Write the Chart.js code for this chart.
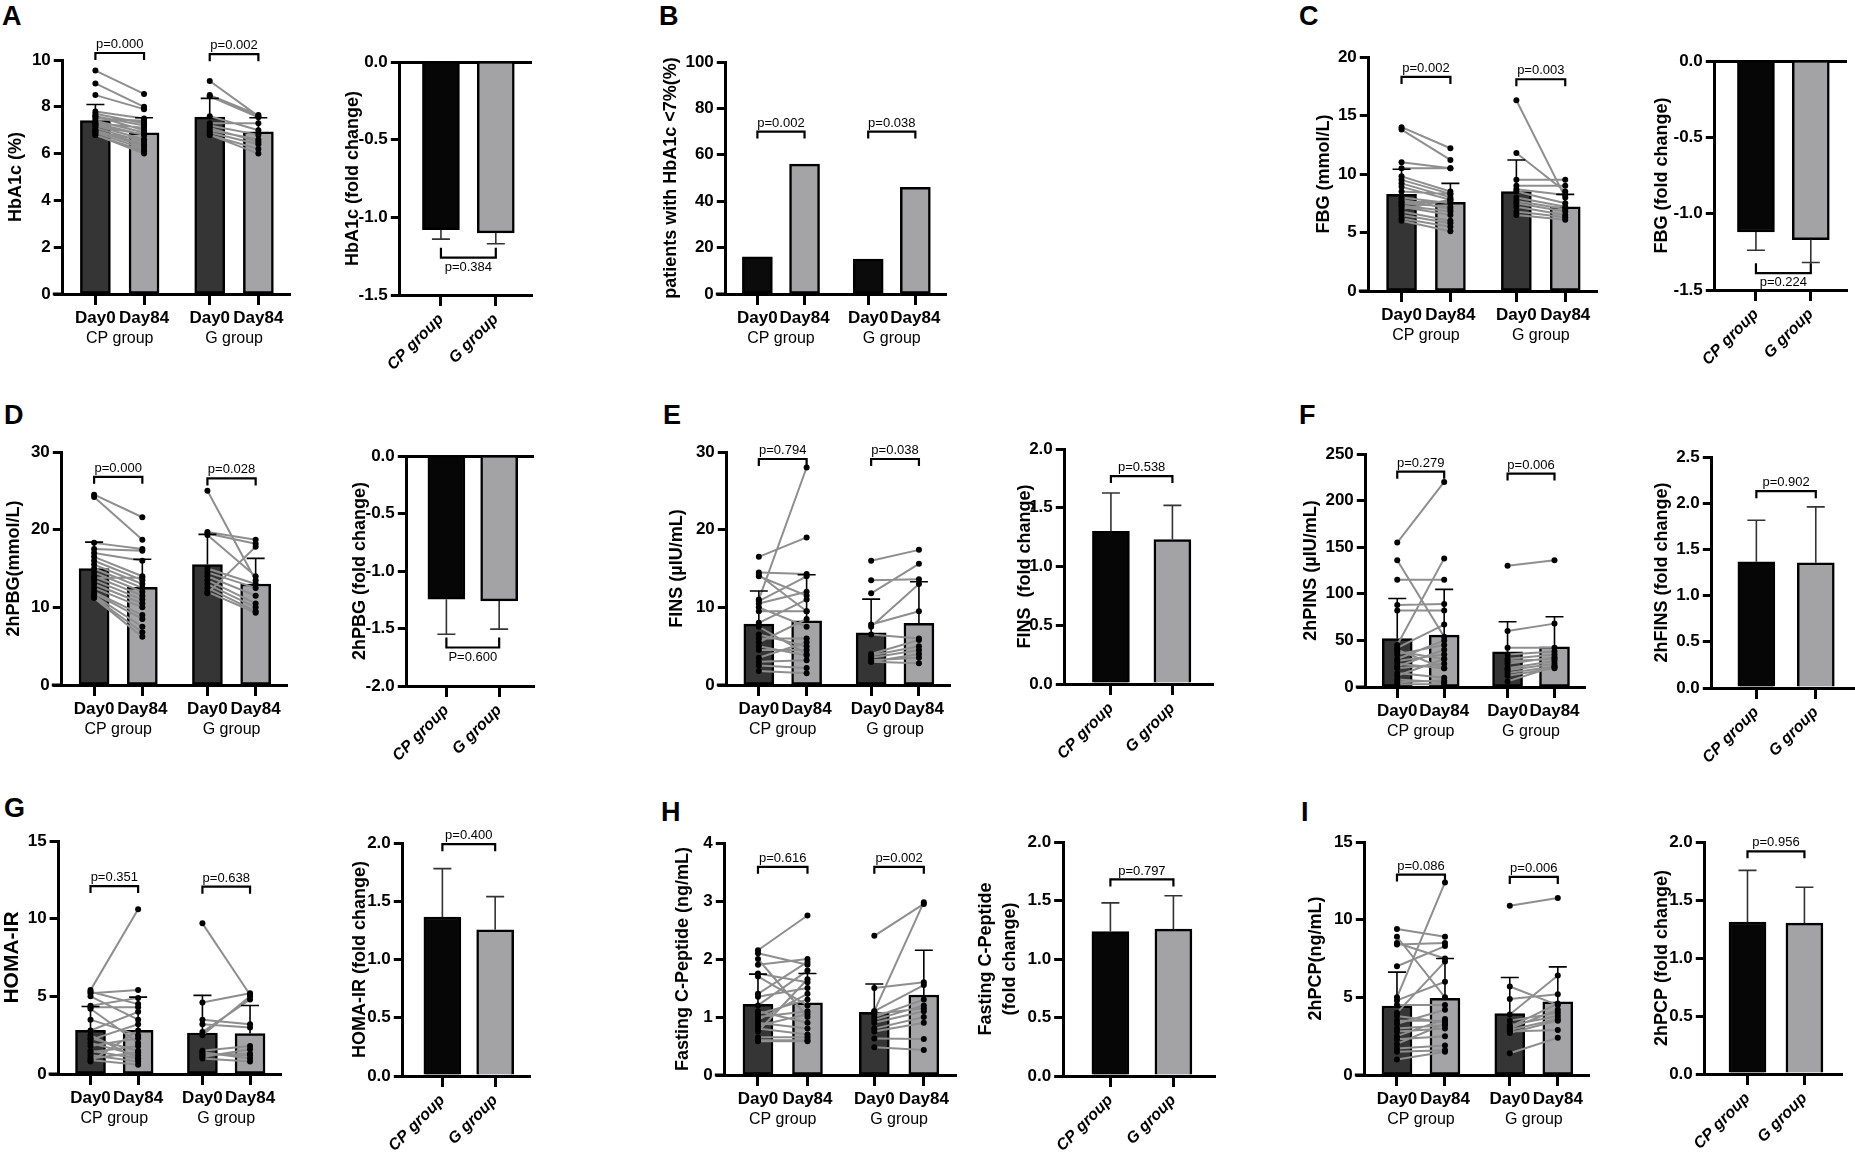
<!DOCTYPE html>
<html>
<head>
<meta charset="utf-8">
<script src="https://cdn.jsdelivr.net/npm/chart.js@4.4.1/dist/chart.umd.min.js"></script>
<style>
    body {
        margin: 0;
        background: #fff;
        width: 1855px;
        height: 1158px;
        position: relative;
        overflow: hidden;
        font-family: "Liberation Sans", Arial, sans-serif;
    }
    canvas {
        position: absolute;
    }
    .letter {
        position: absolute;
        font-weight: bold;
        font-size: 27px;
        line-height: 27px;
    }
</style>
</head>
<body>
<div class="letter" style="left:2px;top:3px">A</div>
<div class="letter" style="left:659px;top:3px">B</div>
<div class="letter" style="left:1299px;top:3px">C</div>
<div class="letter" style="left:4px;top:402px">D</div>
<div class="letter" style="left:663px;top:402px">E</div>
<div class="letter" style="left:1299px;top:402px">F</div>
<div class="letter" style="left:4px;top:795px">G</div>
<div class="letter" style="left:661px;top:799px">H</div>
<div class="letter" style="left:1301px;top:799px">I</div>
<script>
const days = ["Day0", "Day84"];
const groups = ["CP group", "G group"];

// A: HbA1c
const hba1cMean = [7.41, 6.89, 7.56, 6.93];
const hba1cSd = [0.69, 0.64, 0.80, 0.60];
const hba1cCp0 = [9.55, 9.0, 8.5, 7.8, 7.7, 7.6, 7.5, 7.4, 7.3, 7.3, 7.2, 7.1, 7.0, 7.0, 6.9, 6.9, 6.8, 6.8, 7.6, 7.2];
const hba1cCp84 = [8.55, 8.0, 7.9, 7.5, 7.3, 7.2, 7.4, 6.9, 6.8, 7.1, 6.6, 6.5, 6.4, 6.3, 6.2, 6.6, 6.1, 6.0, 7.0, 6.8];
const hba1cG0 = [9.1, 8.5, 8.45, 7.6, 7.3, 7.2, 7.0, 6.9, 6.8, 6.8, 7.1];
const hba1cG84 = [7.6, 7.65, 7.55, 7.0, 7.3, 6.8, 6.6, 6.4, 6.2, 6.0, 6.5];
const hba1cP = ["p=0.000", "p=0.002"];
const hba1cFold = [-1.08, -1.10];
const hba1cFoldSd = [0.06, 0.07];
const hba1cFoldP = "p=0.384";

// B: patients with HbA1c < 7%
const rateValues = [16, 56, 15, 46];
const rateP = ["p=0.002", "p=0.038"];

// C: FBG
const fbgMean = [8.26, 7.57, 8.49, 7.2];
const fbgSd = [2.14, 1.63, 2.71, 1.06];
const fbgCp0 = [14.0, 13.8, 11.0, 10.5, 9.8, 9.5, 9.2, 8.9, 8.5, 8.0, 7.8, 7.5, 7.3, 7.2, 7.0, 6.8, 6.5, 6.2, 6.0, 7.6];
const fbgCp84 = [12.2, 11.2, 10.5, 10.5, 8.5, 8.3, 8.0, 7.8, 8.3, 7.5, 7.0, 7.2, 6.8, 6.5, 7.8, 6.0, 5.8, 5.5, 5.1, 7.6];
const fbgG0 = [16.3, 11.8, 9.5, 9.0, 8.7, 8.5, 8.0, 7.7, 7.5, 7.2, 6.8, 6.5];
const fbgG84 = [8.0, 8.5, 9.5, 9.0, 8.2, 7.5, 7.2, 7.0, 6.8, 6.5, 6.3, 6.1];
const fbgP = ["p=0.002", "p=0.003"];
const fbgFold = [-1.12, -1.17];
const fbgFoldSd = [0.12, 0.15];
const fbgFoldP = "p=0.224";

// D: 2hPBG
const pbgMean = [15.0, 12.56, 15.5, 13.0];
const pbgSd = [3.4, 3.64, 3.9, 3.3];
const pbgCp0 = [24.5, 24.2, 18.3, 17.5, 17.0, 16.5, 16.0, 15.5, 15.0, 14.5, 14.0, 13.5, 13.0, 12.5, 12.0, 11.8, 11.5, 11.3, 11.2, 13.8];
const pbgCp84 = [21.6, 18.7, 17.5, 17.3, 16.0, 14.0, 13.5, 13.0, 12.5, 12.0, 11.5, 11.0, 10.5, 10.0, 9.0, 8.5, 7.5, 6.8, 6.2, 13.8];
const pbgG0 = [25.0, 19.7, 19.5, 19.3, 15.0, 14.5, 14.0, 13.5, 13.0, 12.5, 12.0, 11.8];
const pbgG84 = [13.5, 18.7, 18.2, 14.0, 13.0, 12.5, 11.5, 10.5, 10.0, 9.5, 9.3, 17.8];
const pbgP = ["p=0.000", "p=0.028"];
const pbgFold = [-1.245, -1.26];
const pbgFoldSd = [0.305, 0.245];
const pbgFoldP = "P=0.600";

// E: FINS
const finsMean = [7.84, 8.27, 6.73, 7.93];
const finsSd = [4.26, 5.93, 4.33, 5.37];
const finsCp0 = [16.5, 14.5, 14.2, 14.0, 11.0, 10.8, 10.5, 10.0, 9.5, 8.0, 7.5, 6.5, 6.0, 5.5, 5.0, 4.5, 3.5, 3.0, 2.5, 1.8];
const finsCp84 = [19.0, 14.3, 9.5, 11.5, 28.0, 14.0, 12.0, 7.5, 9.5, 11.0, 4.0, 5.0, 6.0, 8.5, 3.8, 4.5, 5.5, 3.2, 2.2, 1.5];
const finsG0 = [16.0, 13.5, 11.8, 7.8, 7.5, 6.5, 4.0, 3.8, 3.5, 3.2, 3.0, 3.0];
const finsG84 = [17.4, 13.6, 15.6, 9.5, 13.0, 6.0, 5.8, 5.0, 4.5, 3.5, 2.8, 4.0];
const finsP = ["p=0.794", "p=0.038"];
const finsFold = [1.30, 1.23];
const finsFoldSd = [0.325, 0.29];
const finsFoldP = "p=0.538";

// F: 2hPINS
const pinsMean = [52.0, 55.6, 37.7, 43.0];
const pinsSd = [43.0, 49.1, 32.3, 32.3];
const pinsCp0 = [155, 136, 115, 88, 82, 45, 42, 38, 35, 30, 28, 25, 22, 20, 15, 12, 8, 5, 3, 40];
const pinsCp84 = [220, 54, 115, 89, 82, 138, 67, 30, 45, 50, 35, 20, 40, 25, 10, 30, 5, 7, 3, 20];
const pinsG0 = [130, 60, 42, 35, 30, 28, 25, 20, 18, 15, 12, 6];
const pinsG84 = [136, 68, 42, 38, 35, 30, 32, 28, 25, 22, 20, 22];
const pinsP = ["p=0.279", "p=0.006"];
const pinsFold = [1.365, 1.355];
const pinsFoldSd = [0.45, 0.605];
const pinsFoldP = "p=0.902";

// G: HOMA-IR
const homaMean = [2.81, 2.81, 2.64, 2.6];
const homaSd = [1.54, 2.14, 2.42, 1.81];
const homaCp0 = [5.4, 5.3, 5.2, 5.0, 4.4, 4.3, 4.2, 3.5, 2.8, 2.3, 2.2, 2.0, 1.8, 1.5, 1.4, 1.2, 1.0, 0.9, 0.8, 2.5];
const homaCp84 = [10.6, 4.5, 5.4, 3.5, 4.9, 4.3, 2.0, 2.5, 4.0, 1.5, 3.2, 1.2, 2.3, 1.0, 1.8, 0.8, 1.4, 0.6, 2.8, 1.0];
const homaG0 = [9.7, 4.6, 3.5, 3.2, 2.7, 2.5, 1.5, 1.4, 1.3, 1.2, 1.0, 1.1];
const homaG84 = [5.1, 5.2, 3.2, 3.0, 4.8, 5.0, 1.8, 1.0, 1.2, 1.3, 0.8, 1.6];
const homaP = ["p=0.351", "p=0.638"];
const homaFold = [1.365, 1.255];
const homaFoldSd = [0.415, 0.285];
const homaFoldP = "p=0.400";

// H: fasting C-peptide
const cpepMean = [1.22, 1.245, 1.08, 1.38];
const cpepSd = [0.52, 0.505, 0.49, 0.77];
const cpepCp0 = [2.15, 2.1, 2.0, 1.9, 1.75, 1.7, 1.4, 1.35, 1.2, 1.1, 1.05, 1.0, 0.95, 0.9, 0.85, 0.8, 0.75, 0.65, 0.6, 0.58];
const cpepCp84 = [2.75, 1.9, 1.0, 2.0, 1.6, 1.2, 1.95, 1.5, 1.8, 0.9, 1.3, 1.1, 1.4, 0.8, 1.05, 0.7, 1.65, 0.65, 0.6, 0.58];
const cpepG0 = [2.4, 1.5, 1.1, 1.1, 1.0, 0.95, 0.9, 0.8, 0.75, 0.63, 0.48, 1.05];
const cpepG84 = [2.95, 1.6, 2.98, 1.55, 1.3, 1.2, 1.1, 1.0, 0.9, 0.62, 0.43, 1.15];
const cpepP = ["p=0.616", "p=0.002"];
const cpepFold = [1.235, 1.255];
const cpepFoldSd = [0.245, 0.285];
const cpepFoldP = "p=0.797";

// I: 2hPCP
const pcpMean = [4.44, 4.93, 3.96, 4.71];
const pcpSd = [2.18, 2.57, 2.32, 2.25];
const pcpCp0 = [9.4, 8.9, 8.5, 8.4, 7.0, 5.0, 4.8, 4.5, 4.0, 3.5, 3.3, 3.0, 2.8, 2.5, 2.3, 2.0, 1.7, 1.5, 1.0, 3.8];
const pcpCp84 = [8.9, 5.0, 7.5, 8.5, 8.3, 12.4, 6.0, 4.5, 7.3, 3.5, 4.2, 3.2, 3.0, 3.6, 2.5, 3.3, 1.9, 1.6, 1.5, 3.4];
const pcpG0 = [10.9, 5.7, 4.9, 3.9, 3.5, 3.2, 3.0, 2.9, 2.8, 2.7, 1.4, 3.1];
const pcpG84 = [11.4, 4.5, 5.2, 6.4, 4.0, 3.8, 4.2, 3.6, 2.9, 3.5, 2.4, 4.6];
const pcpP = ["p=0.086", "p=0.006"];
const pcpFold = [1.31, 1.30];
const pcpFoldSd = [0.445, 0.31];
const pcpFoldP = "p=0.956";

// x positions of the four bars
const CENTERS = [1, 2, 3.35, 4.35];
const FONT = "'Liberation Sans', Arial, sans-serif";

Chart.defaults.font.family = FONT;
Chart.defaults.color = "#000";
Chart.defaults.animation = false;
Chart.defaults.plugins.legend.display = false;
Chart.defaults.plugins.tooltip.enabled = false;

const marksPlugin = {
    id: "marks",
    afterDatasetsDraw(chart, args, opts) {
        const ctx = chart.ctx;
        const x = chart.scales.x;
        const y = chart.scales.y;
        const area = chart.chartArea;
        ctx.save();
        if (opts.extendLeft) {
            // baseline sticks out a little left of the y axis
            ctx.lineWidth = 3;
            ctx.strokeStyle = "#000";
            ctx.beginPath();
            ctx.moveTo(area.left - opts.extendLeft, area.bottom);
            ctx.lineTo(area.left, area.bottom);
            ctx.stroke();
        }
        (opts.errors || []).forEach((e) => {
            const px = x.getPixelForValue(e.x);
            const p0 = y.getPixelForValue(e.y);
            const p1 = y.getPixelForValue(e.y + Math.sign(e.y) * e.sd);
            ctx.lineWidth = 1.6;
            ctx.strokeStyle = opts.errColor || "#000";
            ctx.beginPath();
            ctx.moveTo(px, p0);
            ctx.lineTo(px, p1);
            ctx.moveTo(px - 9, p1);
            ctx.lineTo(px + 9, p1);
            ctx.stroke();
        });
        (opts.brackets || []).forEach((b) => {
            const xa = x.getPixelForValue(b.x0);
            const xb = x.getPixelForValue(b.x1);
            const py = y.getPixelForValue(b.y);
            const tick = b.dir > 0 ? 7 : -10;
            ctx.lineWidth = 2.2;
            ctx.strokeStyle = "#000";
            ctx.beginPath();
            ctx.moveTo(xa, py + tick);
            ctx.lineTo(xa, py);
            ctx.lineTo(xb, py);
            ctx.lineTo(xb, py + tick);
            ctx.stroke();
            ctx.fillStyle = "#000";
            ctx.font = "13px " + FONT;
            ctx.textAlign = "center";
            ctx.textBaseline = b.dir > 0 ? "bottom" : "top";
            ctx.fillText(b.text, (xa + xb) / 2, b.dir > 0 ? py - 2 : py + 3);
        });
        (opts.groups || []).forEach((g) => {
            ctx.fillStyle = "#000";
            ctx.font = "16px " + FONT;
            ctx.textAlign = "center";
            ctx.textBaseline = "middle";
            ctx.fillText(g.text, x.getPixelForValue(g.x), area.bottom + 45);
        });
        ctx.restore();
    },
};

function makeCanvas(left, top, w, h) {
    const cv = document.createElement("canvas");
    cv.width = Math.round(w);
    cv.height = Math.round(h);
    cv.style.left = `${left}px`;
    cv.style.top = `${top}px`;
    cv.style.width = `${Math.round(w)}px`;
    cv.style.height = `${Math.round(h)}px`;
    document.body.appendChild(cv);
    return cv;
}

function pairLine(day0, day84, x0, x1) {
    const pts = [];
    day0.forEach((v, i) => {
        pts.push({ x: x0, y: v }, { x: x1, y: day84[i] }, { x: x1, y: null });
    });
    return {
        type: "line",
        data: pts,
        borderColor: "#8e8e8e",
        borderWidth: 2,
        pointRadius: 3,
        pointBackgroundColor: "#000",
        pointBorderWidth: 0,
        spanGaps: false,
        order: 0,
    };
}

function pairChart(box, d) {
    const titleSize = box.titleSize || 18;
    const left = box.tx - titleSize * 0.6;
    const padTop = 40;
    const xh = 70;
    const w = box.right - left + 10;
    const h = padTop + (box.bottom - box.top) + xh;
    const cv = makeCanvas(left, box.top - padTop, w, h);
    const yw = box.ax - left;

    const datasets = [{
        type: "bar",
        data: d.mean.map((v, i) => ({ x: CENTERS[i], y: v })),
        backgroundColor: d.fill,
        borderColor: "#000",
        borderWidth: 2.5,
        borderSkipped: false,
        barThickness: 30,
        order: 10,
    }];
    if (d.pairs) {
        datasets.push(pairLine(d.pairs[0], d.pairs[1], CENTERS[0], CENTERS[1]));
        datasets.push(pairLine(d.pairs[2], d.pairs[3], CENTERS[2], CENTERS[3]));
    }

    new Chart(cv, {
        type: "bar",
        data: { datasets },
        options: {
            responsive: false,
            layout: { padding: { top: padTop, right: 10, left: 0, bottom: 0 } },
            scales: {
                x: {
                    type: "linear",
                    min: 0.33,
                    max: 5.0,
                    offset: false,
                    afterBuildTicks: (s) => {
                        s.ticks = CENTERS.map((v) => ({ value: v }));
                    },
                    afterFit: (s) => {
                        s.height = xh;
                    },
                    ticks: {
                        callback: (v, i) => days[i % 2],
                        font: { size: 17, weight: "bold" },
                        padding: 3,
                        autoSkip: false,
                        maxRotation: 0,
                    },
                    grid: {
                        offset: false,
                        drawOnChartArea: false,
                        tickLength: 11,
                        tickWidth: 3,
                        tickColor: "#000",
                    },
                    border: { width: 3, color: "#000" },
                },
                y: {
                    min: 0,
                    max: d.yMax,
                    afterFit: (s) => {
                        s.width = yw;
                    },
                    ticks: {
                        stepSize: d.step,
                        font: { size: 17, weight: "bold" },
                        padding: 3,
                    },
                    grid: {
                        drawOnChartArea: false,
                        tickLength: 9,
                        tickWidth: 3,
                        tickColor: "#000",
                    },
                    border: { width: 3, color: "#000" },
                    title: {
                        display: true,
                        text: d.title,
                        font: { size: titleSize, weight: "bold" },
                        padding: 0,
                    },
                },
            },
            plugins: {
                marks: {
                    extendLeft: 10,
                    errors: d.sd
                        ? d.mean.map((m, i) => ({ x: CENTERS[i], y: m, sd: d.sd[i] }))
                        : [],
                    brackets: [
                        { x0: CENTERS[0], x1: CENTERS[1], y: box.levels[0], text: d.p[0], dir: 1 },
                        { x0: CENTERS[2], x1: CENTERS[3], y: box.levels[1], text: d.p[1], dir: 1 },
                    ],
                    groups: [
                        { x: (CENTERS[0] + CENTERS[1]) / 2, text: groups[0] },
                        { x: (CENTERS[2] + CENTERS[3]) / 2, text: groups[1] },
                    ],
                },
            },
        },
        plugins: [marksPlugin],
    });
}

function foldChart(box, d) {
    const titleSize = 18;
    const lh = box.lh || 1.2;
    const left = box.tx - titleSize * lh / 2;
    const padTop = 30;
    const xh = 100;
    const w = box.right - left + 10;
    const h = padTop + (box.bottom - box.top) + xh;
    const cv = makeCanvas(left, box.top - padTop, w, h);
    const yw = box.ax - left;
    const negative = d.fold[0] < 0;

    new Chart(cv, {
        type: "bar",
        data: {
            datasets: [{
                data: d.fold.map((v, i) => ({ x: i, y: v })),
                backgroundColor: ["#060606", "#a3a3a6"],
                borderColor: "#000",
                borderWidth: 2.5,
                borderSkipped: "start",
                barThickness: 37,
            }],
        },
        options: {
            responsive: false,
            layout: { padding: { top: padTop, right: 10, left: 0, bottom: 0 } },
            scales: {
                x: {
                    type: "linear",
                    min: -0.75,
                    max: 1.66,
                    offset: false,
                    afterBuildTicks: (s) => {
                        s.ticks = [{ value: 0 }, { value: 1 }];
                    },
                    afterFit: (s) => {
                        s.height = xh;
                    },
                    ticks: {
                        callback: (v, i) => groups[i],
                        font: { size: 16, weight: "bold", style: "italic" },
                        padding: 4,
                        autoSkip: false,
                        minRotation: 45,
                        maxRotation: 45,
                    },
                    grid: {
                        offset: false,
                        drawOnChartArea: false,
                        tickLength: 11,
                        tickWidth: 3,
                        tickColor: "#000",
                    },
                    border: { width: 3, color: "#000" },
                },
                y: {
                    min: d.yMin,
                    max: d.yMax,
                    afterFit: (s) => {
                        s.width = yw;
                    },
                    ticks: {
                        stepSize: 0.5,
                        font: { size: 17, weight: "bold" },
                        padding: 3,
                        callback: (v) => v.toFixed(1),
                    },
                    grid: {
                        color: (c) => (c.tick && c.tick.value === 0 ? "#000" : "rgba(0,0,0,0)"),
                        lineWidth: 3,
                        tickLength: 9,
                        tickWidth: 3,
                        tickColor: "#000",
                    },
                    border: { width: 3, color: "#000" },
                    title: {
                        display: true,
                        text: d.title,
                        font: { size: titleSize, weight: "bold", lineHeight: lh },
                        padding: 0,
                    },
                },
            },
            plugins: {
                marks: {
                    errColor: "#333",
                    errors: d.fold.map((m, i) => ({ x: i, y: m, sd: d.sd[i] })),
                    brackets: [
                        { x0: 0, x1: 1, y: box.level, text: d.p, dir: negative ? -1 : 1 },
                    ],
                },
            },
        },
        plugins: [marksPlugin],
    });
}

const DARK = ["#353535", "#a4a4a7", "#353535", "#a4a4a7"];
const BLACK = ["#0b0b0b", "#a4a4a7", "#0b0b0b", "#a4a4a7"];

function main() {
    pairChart(
        { ax: 63, top: 60, bottom: 294, right: 290, tx: 16, levels: [10.3, 10.25] },
        {
            title: "HbA1c (%)", yMax: 10, step: 2, fill: DARK,
            mean: hba1cMean, sd: hba1cSd, p: hba1cP,
            pairs: [hba1cCp0, hba1cCp84, hba1cG0, hba1cG84],
        },
    );
    foldChart(
        { ax: 400, top: 62, bottom: 295, right: 532, tx: 353, level: -1.26 },
        { title: "HbA1c (fold change)", yMin: -1.5, yMax: 0, fold: hba1cFold, sd: hba1cFoldSd, p: hba1cFoldP },
    );
    pairChart(
        { ax: 726, top: 62, bottom: 294, right: 946, tx: 671, levels: [70, 70] },
        {
            title: "patients with HbA1c <7%(%)", yMax: 100, step: 20, fill: BLACK,
            mean: rateValues, p: rateP,
        },
    );
    pairChart(
        { ax: 1369, top: 57, bottom: 291, right: 1597, tx: 1324, levels: [18.3, 18.1] },
        {
            title: "FBG (mmol/L)", yMax: 20, step: 5, fill: DARK,
            mean: fbgMean, sd: fbgSd, p: fbgP,
            pairs: [fbgCp0, fbgCp84, fbgG0, fbgG84],
        },
    );
    foldChart(
        { ax: 1715, top: 61, bottom: 290, right: 1847, tx: 1662, level: -1.39 },
        { title: "FBG (fold change)", yMin: -1.5, yMax: 0, fold: fbgFold, sd: fbgFoldSd, p: fbgFoldP },
    );

    pairChart(
        { ax: 62, top: 452, bottom: 685, right: 287, tx: 14, levels: [26.8, 26.6] },
        {
            title: "2hPBG(mmol/L)", yMax: 30, step: 10, fill: DARK,
            mean: pbgMean, sd: pbgSd, p: pbgP,
            pairs: [pbgCp0, pbgCp84, pbgG0, pbgG84],
        },
    );
    foldChart(
        { ax: 407, top: 456, bottom: 686, right: 534, tx: 360, level: -1.665 },
        { title: "2hPBG (fold change)", yMin: -2, yMax: 0, fold: pbgFold, sd: pbgFoldSd, p: pbgFoldP },
    );
    pairChart(
        { ax: 727, top: 452, bottom: 685, right: 950, tx: 677, levels: [29.1, 29.1] },
        {
            title: "FINS (µIU/mL)", yMax: 30, step: 10, fill: DARK,
            mean: finsMean, sd: finsSd, p: finsP,
            pairs: [finsCp0, finsCp84, finsG0, finsG84],
        },
    );
    foldChart(
        { ax: 1065, top: 449, bottom: 684, right: 1213, tx: 1025, level: 1.77 },
        { title: "FINS  (fold change)", yMin: 0, yMax: 2, fold: finsFold, sd: finsFoldSd, p: finsFoldP },
    );
    pairChart(
        { ax: 1366, top: 454, bottom: 687, right: 1585, tx: 1311, levels: [231, 229] },
        {
            title: "2hPINS (µIU/mL)", yMax: 250, step: 50, fill: DARK,
            mean: pinsMean, sd: pinsSd, p: pinsP,
            pairs: [pinsCp0, pinsCp84, pinsG0, pinsG84],
        },
    );
    foldChart(
        { ax: 1712, top: 457, bottom: 688, right: 1855, tx: 1662, level: 2.13 },
        { title: "2hFINS (fold change)", yMin: 0, yMax: 2.5, fold: pinsFold, sd: pinsFoldSd, p: pinsFoldP },
    );

    pairChart(
        { ax: 59, top: 841, bottom: 1074, right: 281, tx: 13, titleSize: 21, levels: [12.1, 12.06] },
        {
            title: "HOMA-IR", yMax: 15, step: 5, fill: DARK,
            mean: homaMean, sd: homaSd, p: homaP,
            pairs: [homaCp0, homaCp84, homaG0, homaG84],
        },
    );
    foldChart(
        { ax: 403, top: 843, bottom: 1076, right: 530, tx: 360, level: 1.99 },
        { title: "HOMA-IR (fold change)", yMin: 0, yMax: 2, fold: homaFold, sd: homaFoldSd, p: homaFoldP },
    );
    pairChart(
        { ax: 725, top: 843, bottom: 1075, right: 956, tx: 683, levels: [3.59, 3.59] },
        {
            title: "Fasting C-Peptide (ng/mL)", yMax: 4, step: 1, fill: DARK,
            mean: cpepMean, sd: cpepSd, p: cpepP,
            pairs: [cpepCp0, cpepCp84, cpepG0, cpepG84],
        },
    );
    foldChart(
        { ax: 1063, top: 842, bottom: 1076, right: 1215, tx: 986, lh: 1.35, level: 1.68 },
        {
            title: ["Fasting C-Peptide", "(fold change)"], yMin: 0, yMax: 2,
            fold: cpepFold, sd: cpepFoldSd, p: cpepFoldP,
        },
    );
    pairChart(
        { ax: 1365, top: 842, bottom: 1075, right: 1589, tx: 1316, levels: [12.9, 12.75] },
        {
            title: "2hPCP(ng/mL)", yMax: 15, step: 5, fill: DARK,
            mean: pcpMean, sd: pcpSd, p: pcpP,
            pairs: [pcpCp0, pcpCp84, pcpG0, pcpG84],
        },
    );
    foldChart(
        { ax: 1705, top: 842, bottom: 1074, right: 1842, tx: 1662, level: 1.92 },
        { title: "2hPCP (fold change)", yMin: 0, yMax: 2, fold: pcpFold, sd: pcpFoldSd, p: pcpFoldP },
    );
}

main();
</script>
</body>
</html>
